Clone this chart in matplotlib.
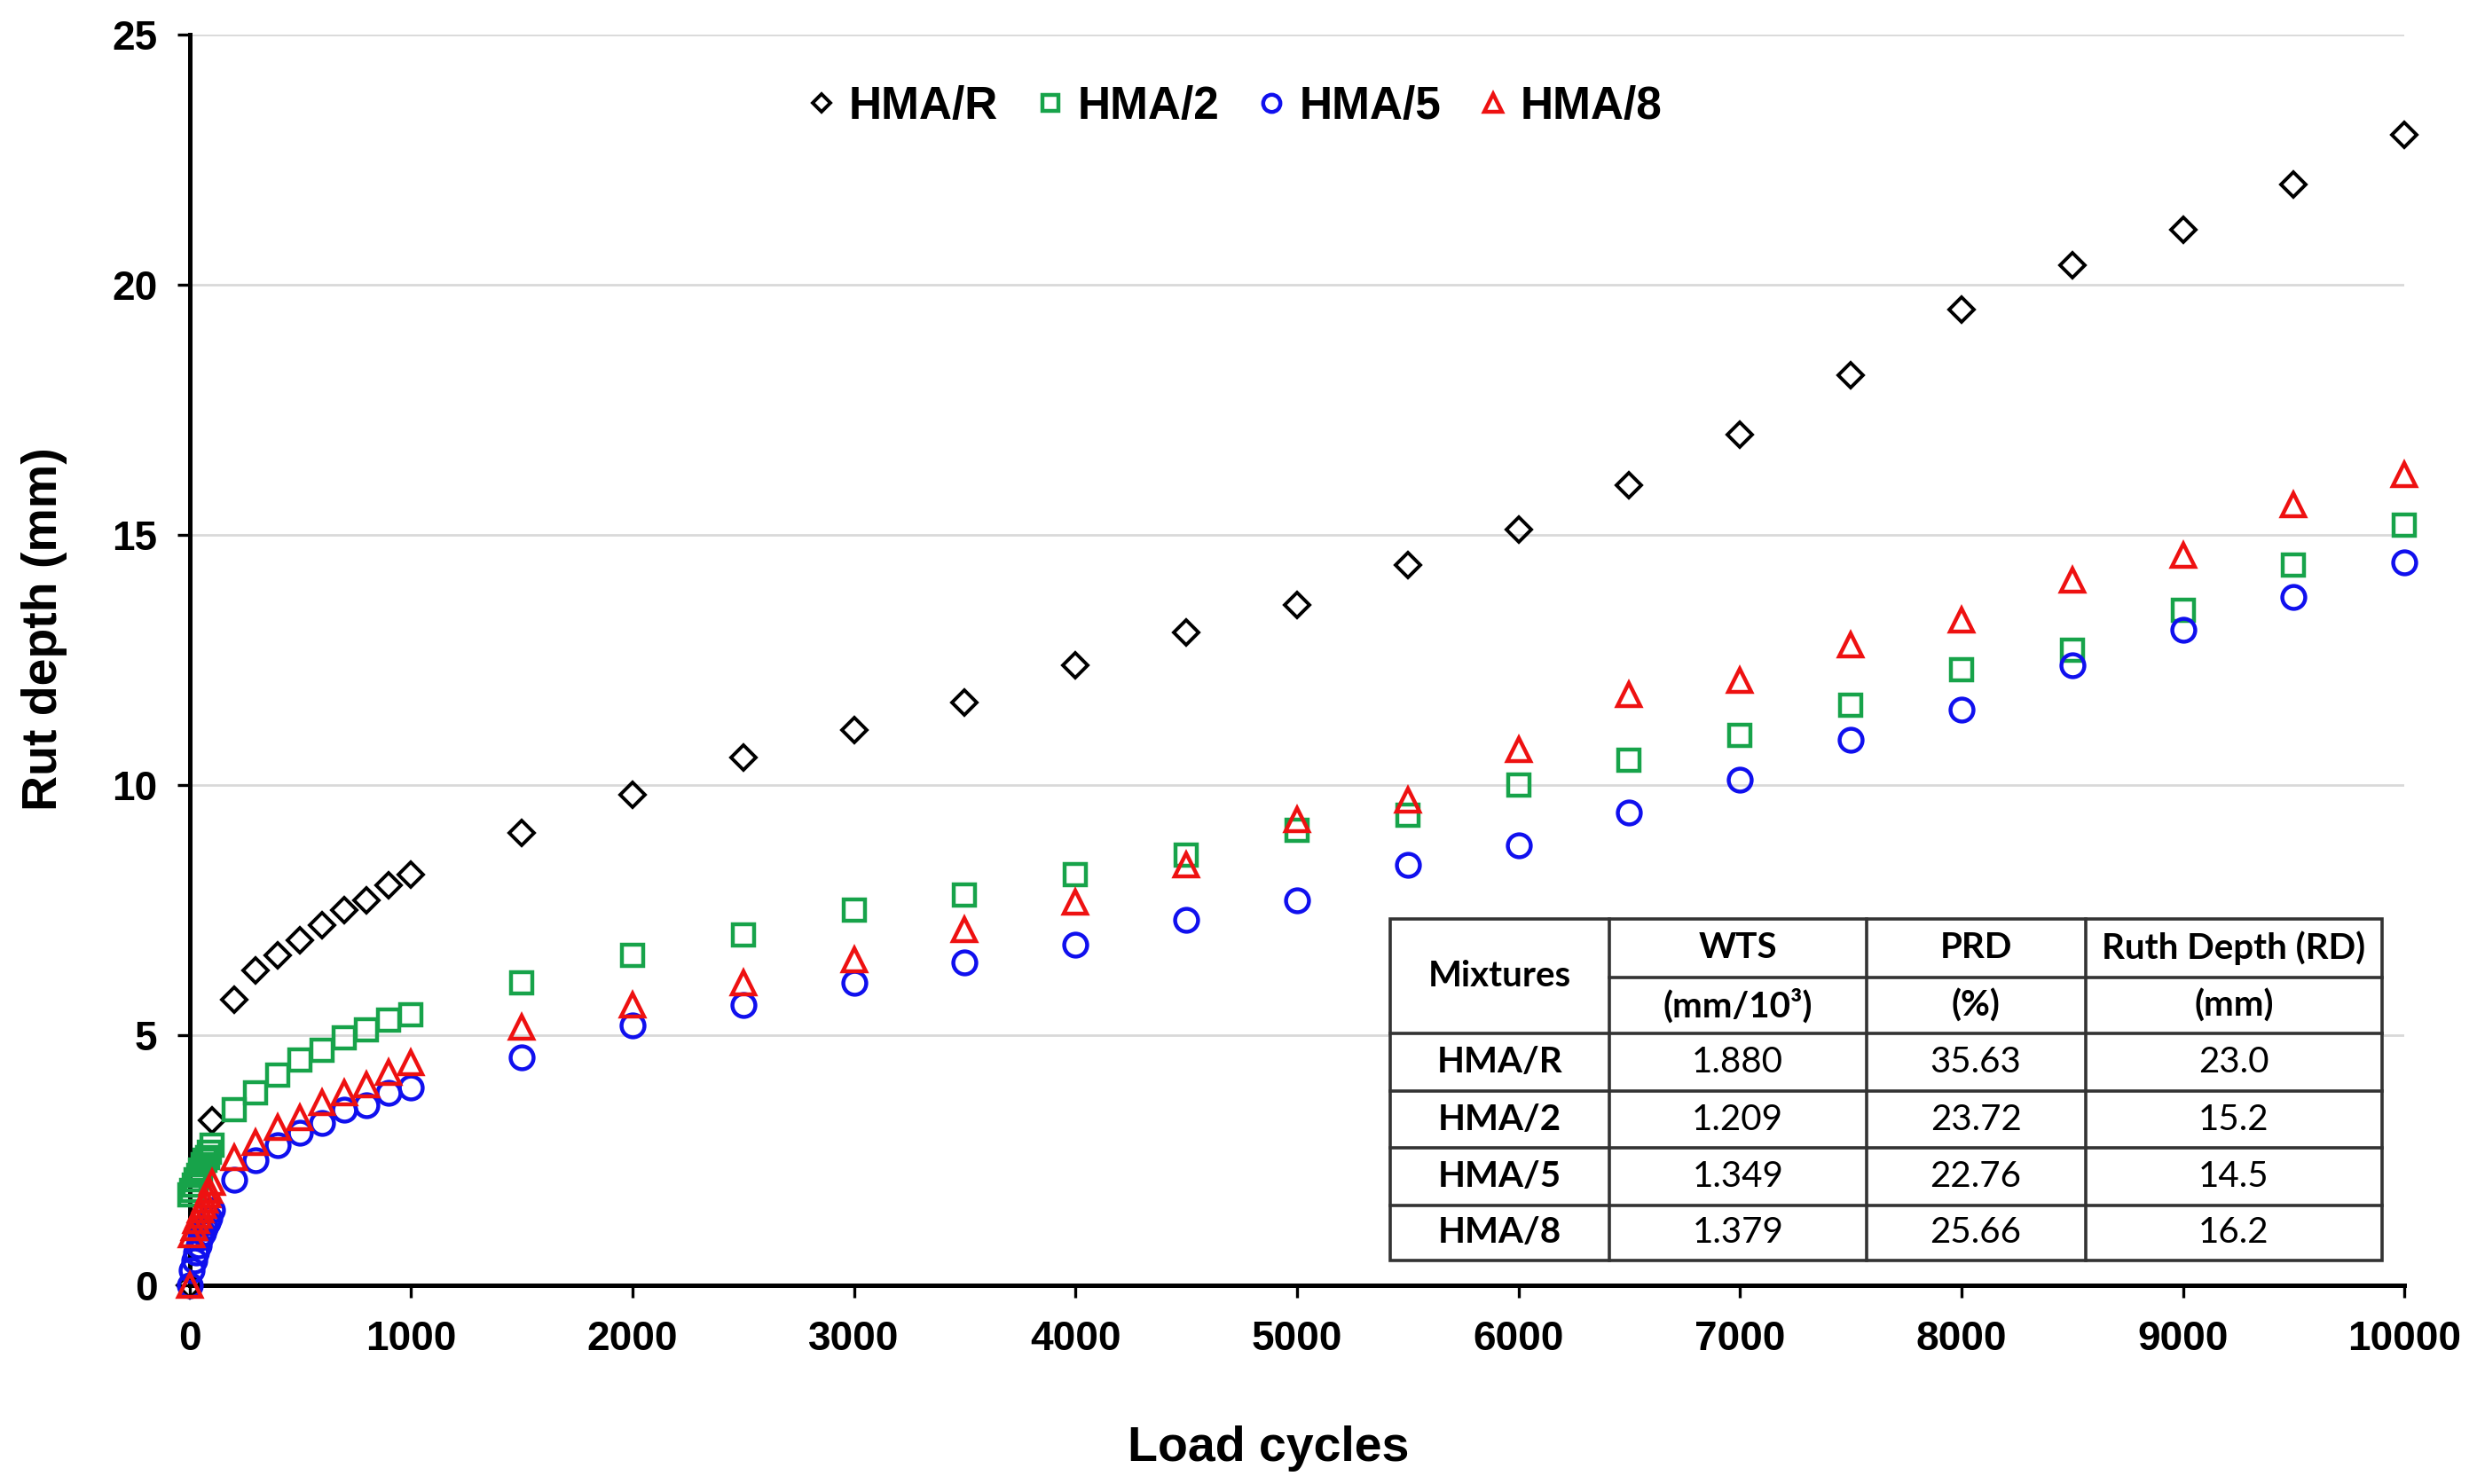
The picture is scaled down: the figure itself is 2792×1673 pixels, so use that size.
import matplotlib.pyplot as plt

# load cycles
cycles_r = [0, 100, 200, 300, 400, 500, 600, 700, 800, 900, 1000,
            1500, 2000, 2500, 3000, 3500, 4000, 4500, 5000, 5500, 6000,
            6500, 7000, 7500, 8000, 8500, 9000, 9500, 10000]
cycles = [0, 10, 20, 30, 40, 50, 60, 70, 80, 90] + cycles_r[1:]

hma_r = [0, 3.3, 5.7, 6.3, 6.6, 6.9, 7.2, 7.5, 7.7, 8.0, 8.2,
         9.05, 9.8, 10.55, 11.1, 11.65, 12.4, 13.05, 13.6, 14.4, 15.1,
         16.0, 17.0, 18.2, 19.5, 20.4, 21.1, 22.0, 23.0]
hma_2 = [1.8, 1.9, 2.0, 2.1, 2.2, 2.3, 2.4, 2.5, 2.55, 2.65,
         2.8, 3.5, 3.85, 4.2, 4.5, 4.7, 4.95, 5.1, 5.3, 5.4,
         6.05, 6.6, 7.0, 7.5, 7.8, 8.2, 8.6, 9.1, 9.4, 10.0,
         10.5, 11.0, 11.6, 12.3, 12.7, 13.5, 14.4, 15.2]
hma_5 = [0, 0.3, 0.5, 0.65, 0.8, 0.95, 1.05, 1.15, 1.25, 1.35,
         1.5, 2.1, 2.5, 2.8, 3.05, 3.25, 3.5, 3.6, 3.85, 3.95,
         4.55, 5.2, 5.6, 6.05, 6.45, 6.8, 7.3, 7.7, 8.4, 8.8,
         9.45, 10.1, 10.9, 11.5, 12.4, 13.1, 13.75, 14.45]
hma_8 = [0, 1.0, 1.15, 1.3, 1.4, 1.5, 1.6, 1.7, 1.8, 1.9,
         2.05, 2.55, 2.85, 3.15, 3.35, 3.65, 3.85, 4.0, 4.25, 4.45,
         5.15, 5.6, 6.05, 6.5, 7.1, 7.65, 8.4, 9.3, 9.7, 10.7,
         11.8, 12.1, 12.8, 13.3, 14.1, 14.6, 15.6, 16.2]

# table data
tbl_mix = ['HMA/R', 'HMA/2', 'HMA/5', 'HMA/8']
tbl_wts = ['1.880', '1.209', '1.349', '1.379']
tbl_prd = ['35.63', '23.72', '22.76', '25.66']
tbl_rd = ['23.0', '15.2', '14.5', '16.2']

plt.rcParams['font.family'] = ['Liberation Sans', 'DejaVu Sans']
plt.rcParams['font.weight'] = 'bold'

fig = plt.figure(figsize=(13.96, 8.365), dpi=200)
ax = fig.add_axes([0.0765, 0.134, 0.8942, 0.8426])

ax.plot(cycles_r, hma_r, 'D', ms=7.0, mfc='none', mec='black', mew=1.4,
        label='HMA/R', clip_on=False, zorder=3)
ax.plot(cycles, hma_2, 's', ms=8.8, mfc='none', mec='#17a34a', mew=1.6,
        label='HMA/2', clip_on=False, zorder=3)
ax.plot(cycles, hma_5, 'o', ms=9.3, mfc='none', mec='#1010ee', mew=1.6,
        label='HMA/5', clip_on=False, zorder=3)
ax.plot(cycles, hma_8, '^', ms=9.5, mfc='none', mec='#ee1111', mew=1.6,
        label='HMA/8', clip_on=False, zorder=3)

ax.set_xlim(0, 10000)
ax.set_ylim(0, 25)
ax.set_xticks(range(0, 10001, 1000))
ax.set_yticks(range(0, 26, 5))
ax.grid(axis='y', color='#d9d9d9', lw=1.0)
ax.set_axisbelow(True)
for s in ['top', 'right']:
    ax.spines[s].set_visible(False)
for s in ['left', 'bottom']:
    ax.spines[s].set_linewidth(1.8)
ax.tick_params(axis='both', direction='out', length=5, width=1.2, labelsize=16.5)
ax.tick_params(axis='x', pad=9)
ax.tick_params(axis='y', pad=8)
for lbl in ax.get_xticklabels() + ax.get_yticklabels():
    lbl.set_fontweight('bold')

ax.set_xlabel('Load cycles', fontsize=20, fontweight='bold')
ax.xaxis.set_label_coords(0.487, -0.112)
ax.set_ylabel('Rut depth (mm)', fontsize=20, fontweight='bold')
ax.yaxis.set_label_coords(-0.055, 0.525)

ax.legend(loc='center', bbox_to_anchor=(0.472, 0.942), ncol=4, frameon=False,
          prop={'size': 18.5, 'weight': 'bold'}, markerscale=0.75,
          handlelength=0.6, handletextpad=0.3, columnspacing=0.85)

# summary table (axes coordinates)
col_edges = [0.542, 0.641, 0.757, 0.856, 0.990]
row_edges = [0.293, 0.246, 0.201, 0.155, 0.110, 0.064, 0.020]
tfont = ['Lato', 'DejaVu Sans']
tsize = 14.5
tr = ax.transAxes
ax.add_patch(plt.Rectangle((col_edges[0], row_edges[-1]),
                           col_edges[-1] - col_edges[0],
                           row_edges[0] - row_edges[-1],
                           transform=tr, facecolor='white', edgecolor='#333333',
                           lw=1.3, zorder=4))
for x in col_edges[1:-1]:
    ax.plot([x, x], [row_edges[-1], row_edges[0]], transform=tr,
            color='#333333', lw=1.3, zorder=5)
ax.plot([col_edges[1], col_edges[-1]], [row_edges[1]] * 2, transform=tr,
        color='#333333', lw=1.3, zorder=5)
for y in row_edges[2:-1]:
    ax.plot([col_edges[0], col_edges[-1]], [y, y], transform=tr,
            color='#333333', lw=1.3, zorder=5)

def cell_text(ci, y, txt, weight):
    xc = (col_edges[ci] + col_edges[ci + 1]) / 2
    ax.text(xc, y, txt, transform=tr, ha='center', va='center',
            family=tfont, fontsize=tsize, fontweight=weight, zorder=6)

cell_text(0, (row_edges[0] + row_edges[2]) / 2, 'Mixtures', 'bold')
heads = [('WTS', '(mm/10³)'), ('PRD', '(%)'), ('Ruth Depth (RD)', '(mm)')]
for i, (h1, h2) in enumerate(heads):
    cell_text(i + 1, (row_edges[0] + row_edges[1]) / 2, h1, 'bold')
    cell_text(i + 1, (row_edges[1] + row_edges[2]) / 2, h2, 'bold')
for r in range(len(tbl_mix)):
    yc = (row_edges[r + 2] + row_edges[r + 3]) / 2
    cell_text(0, yc, tbl_mix[r], 'bold')
    cell_text(1, yc, tbl_wts[r], 'normal')
    cell_text(2, yc, tbl_prd[r], 'normal')
    cell_text(3, yc, tbl_rd[r], 'normal')

fig.savefig('out.png', dpi=200)
